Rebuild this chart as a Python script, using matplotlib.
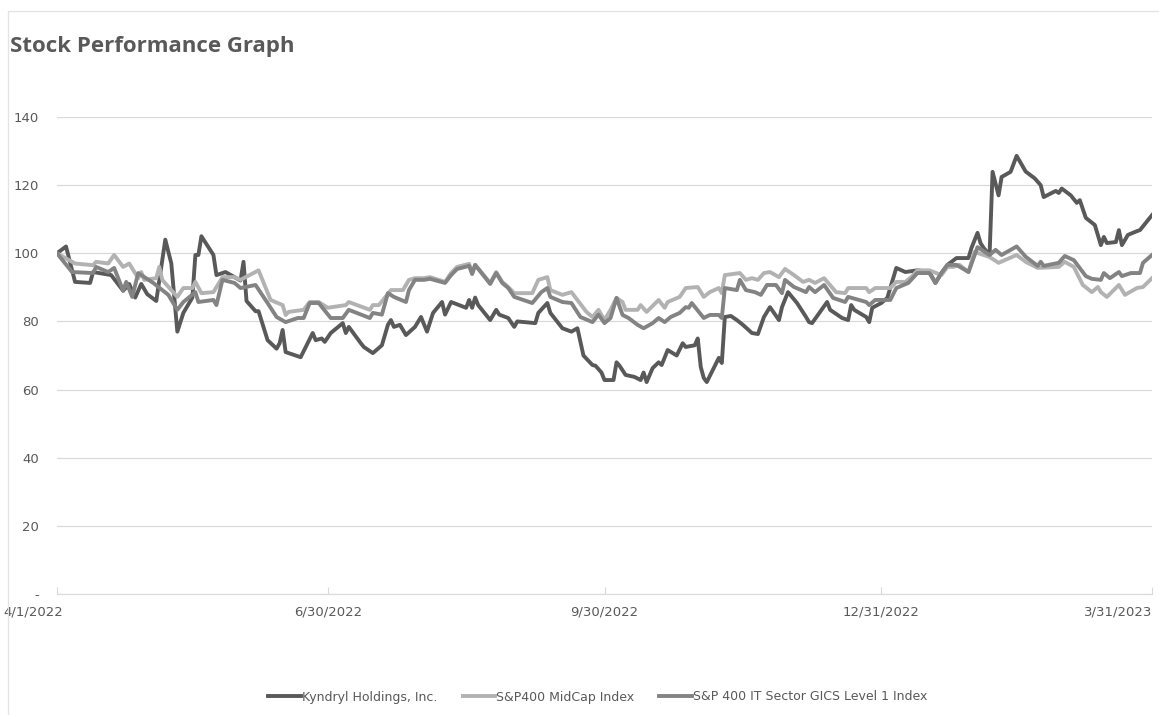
import matplotlib
matplotlib.use("Agg")
import matplotlib.pyplot as plt
import matplotlib.transforms as mtransforms
from matplotlib.patches import Rectangle
import pandas as pd

# Data (days counted from 4/1/2022, indexed to 100)
start = pd.Timestamp("2022-04-01")

kyn_days = [0, 3, 6, 11, 12, 18, 22, 24, 26, 28, 30, 33, 36, 38, 40, 42, 45, 46, 47, 48,
            52, 53, 56, 61, 62, 63, 66, 67, 70, 73, 74, 75, 76, 81, 85, 86, 88, 89, 91,
            95, 96, 97, 101, 102, 105, 108, 110, 111, 112, 114, 116, 119, 121, 123, 125,
            128, 129, 131, 136, 137, 138, 139, 140, 144, 146, 147, 150, 152, 153, 159,
            160, 163, 164, 168, 171, 173, 175, 178, 179, 181, 182, 183, 185, 186, 187,
            189, 192, 194, 195, 196, 198, 200, 201, 203, 206, 208, 209, 212, 213, 214,
            215, 216, 220, 221, 222, 224, 226, 228, 231, 233, 235, 237, 240, 241, 243,
            246, 249, 250, 251, 253, 256, 257, 261, 263, 264, 265, 269, 270, 271, 274,
            276, 279, 282, 286, 290, 292, 294, 296, 299, 303, 304, 306, 307, 308, 310,
            311, 313, 314, 317, 319, 322, 325, 327, 328, 332, 333, 334, 337, 339, 340,
            342, 345, 347, 348, 349, 352, 353, 354, 356, 359, 360, 364]
kyn_vals = [100, 102, 91.6, 91.3, 94.5, 93.6, 89, 91, 87, 91, 88, 86, 104, 97, 77, 82.5,
            87, 99.5, 99.5, 105, 99.5, 93.6, 94.5, 92, 97.5, 86, 83, 83, 74.5, 72, 73.6,
            77.5, 71, 69.5, 76.6, 74.5, 75, 74, 76.6, 79.5, 76.6, 78.4, 73.6, 72.5, 70.7,
            73, 79, 80.4, 78.4, 79, 76, 78.4, 81.3, 77, 82.5, 85.7, 82, 85.7, 84, 86.3,
            84, 87, 84.8, 80.4, 83.4, 82, 81, 78.4, 80, 79.5, 82.5, 85.4, 82.5, 78, 77,
            78, 70, 67.2, 67, 65, 62.8, 62.8, 62.8, 68, 67, 64.3, 63.7, 62.8, 65, 62.2,
            66.3, 68, 67.2, 71.6, 70, 73.6, 72.5, 73, 75, 66.6, 63.4, 62.2, 69.3, 67.8,
            81.3, 81.6, 80.4, 79, 76.6, 76.3, 81.3, 84.2, 80.4, 84.2, 88.6, 85.4, 81.3,
            79.8, 79.5, 82, 85.7, 83.4, 81, 80.4, 84.8, 83.4, 81.3, 79.8, 84, 85.4, 86.9,
            95.7, 94.5, 95, 94.5, 91.3, 94.2, 96.6, 98.6, 98.6, 101.6, 106, 103, 101.6,
            99.5, 123.9, 117, 122.4, 123.9, 128.6, 124, 122, 120, 116.5, 118.3, 117.7,
            119, 117, 114.8, 115.6, 110.4, 108.3, 102.4, 104.8, 103, 103.3, 106.8, 102.4,
            105.4, 106.5, 106.8, 111.2]

mid_days = [0, 6, 12, 13, 17, 19, 22, 24, 27, 28, 29, 33, 34, 35, 40, 42, 45, 46, 48, 52,
            55, 59, 61, 64, 67, 71, 75, 76, 77, 82, 84, 87, 90, 96, 97, 104, 105, 107,
            111, 115, 117, 119, 122, 124, 129, 131, 133, 137, 138, 139, 144, 146, 148,
            150, 152, 158, 160, 163, 164, 168, 171, 173, 176, 178, 180, 182, 184, 186,
            188, 189, 193, 194, 196, 200, 202, 203, 207, 209, 213, 215, 217, 220, 221,
            222, 227, 229, 231, 233, 235, 237, 240, 242, 245, 248, 250, 252, 255, 259,
            262, 263, 269, 270, 272, 277, 279, 282, 284, 286, 290, 294, 296, 298, 300,
            303, 305, 310, 313, 319, 322, 326, 333, 335, 338, 341, 344, 346, 347, 349,
            353, 355, 359, 361, 364]
mid_vals = [100, 97, 96.5, 97.5, 97, 99.5, 96, 97, 92.7, 94.5, 92.2, 92.7, 96, 92.2, 87.2,
            89.8, 89.8, 91.6, 88.3, 88.6, 93, 93, 92.2, 93.6, 95, 86.3, 84.8, 81.9, 82.8,
            83.4, 85.7, 85.7, 84, 84.8, 85.7, 83.4, 84.8, 84.8, 89.2, 89.2, 92.2, 92.7,
            92.7, 93, 91.6, 94.2, 96, 96.9, 94.2, 96.6, 91.3, 94.5, 91.6, 90.1, 88.3,
            88.3, 92.2, 93, 89.2, 87.8, 88.6, 86.3, 82.8, 81.3, 83.4, 80.4, 83.4, 86.9,
            85.7, 83.4, 83.4, 84.8, 82.8, 86.3, 84, 85.7, 87.2, 89.8, 90.1, 87.2, 88.6,
            89.8, 88.3, 93.6, 94.2, 92.2, 92.7, 92.2, 94.2, 94.5, 93, 95.4, 93.6, 91.6,
            92.2, 91.3, 92.7, 88.6, 88.3, 89.8, 89.8, 88.6, 89.8, 89.8, 91.6, 91.6, 93,
            95, 95, 93.6, 96, 96, 96.6, 94.5, 100.4, 98.9, 97.2, 99.5, 97.5, 95.7, 96,
            97.5, 96, 90.7, 88.6, 90.1, 88.6, 87.2, 90.7, 87.8, 89.8, 90.1, 92.7]

it_days = [0, 5, 12, 13, 17, 19, 22, 23, 25, 27, 32, 37, 40, 42, 46, 47, 52, 53, 55, 59,
           61, 66, 70, 73, 76, 80, 82, 84, 87, 91, 95, 97, 104, 105, 108, 110, 112, 116,
           117, 119, 122, 124, 129, 131, 133, 137, 138, 139, 144, 146, 148, 150, 152,
           158, 161, 163, 164, 168, 171, 174, 178, 180, 182, 184, 186, 188, 190, 193,
           195, 198, 200, 202, 204, 207, 209, 210, 211, 215, 217, 220, 221, 222, 226,
           227, 229, 232, 234, 236, 239, 241, 242, 245, 249, 250, 252, 255, 258, 262,
           263, 269, 270, 272, 277, 279, 283, 286, 290, 292, 294, 296, 299, 303, 306,
           310, 312, 314, 319, 322, 326, 327, 328, 333, 335, 338, 342, 344, 347, 348,
           350, 353, 354, 357, 360, 361, 364]
it_vals = [100, 94.5, 94.2, 96, 94.5, 95.7, 89, 91.6, 87.2, 94.2, 91.3, 87.8, 83.4, 85.7,
           88.6, 85.7, 86.3, 84.8, 92.2, 91.3, 89.8, 90.7, 85.4, 81.3, 79.8, 81, 81, 85.4,
           85.4, 81, 81, 83.4, 81, 82.5, 82, 88.3, 87.2, 85.7, 89.2, 92.2, 92.2, 92.5,
           91.3, 93.6, 95.4, 96.3, 93.9, 96.6, 91, 94.2, 91.3, 89.8, 87.2, 85.4, 88.6,
           89.8, 87.2, 85.7, 85.4, 81.3, 79.8, 82, 79.5, 81, 86.9, 81.9, 81, 79, 78, 79.5,
           81, 79.8, 81.3, 82.5, 84.2, 84, 85.4, 81, 81.9, 81.9, 81, 89.8, 89.2, 92.2,
           89.2, 88.6, 87.8, 90.7, 90.7, 88.3, 92.2, 90.1, 88.6, 90.1, 88.6, 90.7, 86.9,
           85.7, 87.2, 85.7, 84.8, 86.3, 86.3, 89.8, 91.3, 94.2, 94.2, 91.3, 94.2, 96.6,
           96.6, 94.5, 101.8, 99.5, 101, 99.5, 102, 99, 96.3, 97.5, 96.3, 97.2, 99.2, 98,
           93.3, 92.5, 92.2, 94.2, 92.7, 94.5, 93.3, 94.2, 94.2, 97.2, 99.5]

series_names = ["Kyndryl Holdings, Inc.", "S&P400 MidCap Index",
                "S&P 400 IT Sector GICS Level 1 Index"]
series_colors = ["#595959", "#b2b2b2", "#838383"]

tick_dates = ["2022-04-01", "2022-06-30", "2022-09-30", "2022-12-31", "2023-03-31"]
tick_labels = ["4/1/2022", "6/30/2022", "9/30/2022", "12/31/2022", "3/31/2023"]
y_ticks = [0, 20, 40, 60, 80, 100, 120, 140]
y_labels = ["-", "20", "40", "60", "80", "100", "120", "140"]

text_gray = "#595959"
grid_gray = "#d9d9d9"
narrow = ["Liberation Sans Narrow", "DejaVu Sans"]

fig = plt.figure(figsize=(11.59, 7.15), dpi=100)
ax = fig.add_axes([57 / 1159, 1 - 594 / 715, (1152 - 57) / 1159, (594 - 117) / 715])

all_days = [kyn_days, mid_days, it_days]
all_vals = [kyn_vals, mid_vals, it_vals]
for days, vals, name, color in zip(all_days, all_vals, series_names, series_colors):
    dates = start + pd.to_timedelta(days, unit="D")
    ax.plot(dates, vals, color=color, lw=2.8, label=name, solid_joinstyle="round")

ax.set_ylim(0, 140)
ax.set_xlim(pd.Timestamp(tick_dates[0]), pd.Timestamp(tick_dates[-1]))
ax.set_yticks(y_ticks)
ax.set_yticklabels(y_labels)
ax.set_xticks(pd.to_datetime(tick_dates))
ax.set_xticklabels(tick_labels)
ax.grid(axis="y", color=grid_gray, lw=0.9)
ax.set_axisbelow(True)
for side in ["top", "right", "left"]:
    ax.spines[side].set_visible(False)
ax.spines["bottom"].set_color(grid_gray)
ax.tick_params(axis="y", length=0, pad=13, labelsize=9.5, labelcolor=text_gray)
ax.tick_params(axis="x", direction="in", length=5, color=grid_gray, pad=8,
               labelsize=9.5, labelcolor=text_gray)
labs = ax.get_xticklabels()
for lab in labs:
    lab.set_family(narrow)
# first label sits mostly left of its tick, last one ends at the axis end
shift = mtransforms.ScaledTranslation(6 / 100, 0, fig.dpi_scale_trans)
labs[0].set_ha("right")
labs[0].set_transform(labs[0].get_transform() + shift)
labs[-1].set_ha("right")

# title and outer chart border
fig.text(10 / 1159, 1 - 52 / 715, "Stock Performance Graph", fontsize=16,
         fontweight="bold", color=text_gray, family="Open Sans", va="baseline")
fig.patches.append(Rectangle((8 / 1159, -0.01), 1.0, 1 - 11 / 715 + 0.01,
                             transform=fig.transFigure, fill=False,
                             edgecolor="#e3e3e3", lw=0.9))

leg = fig.legend(loc="center", bbox_to_anchor=(598 / 1159, 1 - 697 / 715), ncol=3,
                 frameon=False, handlelength=2.6, columnspacing=2.0,
                 handletextpad=0.1, prop={"family": narrow, "size": 9})
for t in leg.get_texts():
    t.set_color(text_gray)

fig.savefig("out.png", dpi=100)
